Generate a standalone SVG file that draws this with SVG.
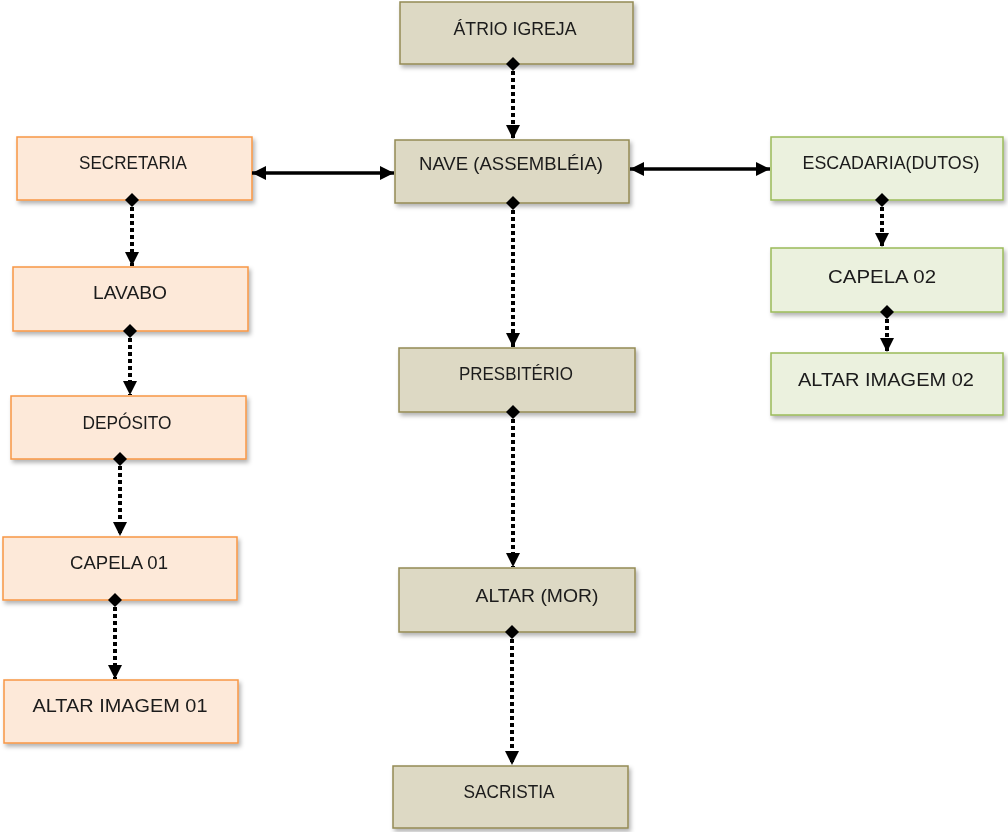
<svg xmlns="http://www.w3.org/2000/svg" width="1008" height="832" viewBox="0 0 1008 832">
<defs>
<style>
.box{stroke-width:1.5}
.tan{fill:#DDD9C4;stroke:#948A54}
.org{fill:#FDE9D9;stroke:#F79646}
.grn{fill:#EBF1DE;stroke:#9BBB59}
text{font-family:"Liberation Sans",Arial,sans-serif;font-size:19px;fill:#1a1a1a;text-anchor:middle}
.dot{stroke:#000;stroke-width:4;stroke-dasharray:4 3;fill:none;marker-start:url(#dia);marker-end:url(#tri)}
.sol{stroke:#000;stroke-width:3.5;fill:none;marker-start:url(#tri2);marker-end:url(#tri2)}
</style>
<filter id="sh" x="-10%" y="-10%" width="125%" height="135%">
<feDropShadow dx="2" dy="3" stdDeviation="2" flood-color="#000" flood-opacity="0.3"/>
</filter>
<marker id="dia" markerUnits="userSpaceOnUse" markerWidth="14" markerHeight="14" refX="7" refY="7" orient="auto">
<path d="M0,7 L7,0 L14,7 L7,14 z" fill="#000"/>
</marker>
<marker id="tri" markerUnits="userSpaceOnUse" markerWidth="16" markerHeight="16" refX="14" refY="7" orient="auto">
<path d="M0,0 L14,7 L0,14 z" fill="#000"/>
</marker>
<marker id="tri2" markerUnits="userSpaceOnUse" markerWidth="16" markerHeight="16" refX="14" refY="7" orient="auto-start-reverse">
<path d="M0,0 L14,7 L0,14 z" fill="#000"/>
</marker>
</defs>
<rect width="1008" height="832" fill="#fff"/>
<g id="atrio" filter="url(#sh)"><rect class="box tan" x="400" y="2" width="233" height="62"/><text x="515" y="35" textLength="123" lengthAdjust="spacingAndGlyphs">ÁTRIO IGREJA</text></g>
<g id="nave" filter="url(#sh)"><rect class="box tan" x="395" y="140" width="234" height="63"/><text x="511" y="170" textLength="184" lengthAdjust="spacingAndGlyphs">NAVE (ASSEMBLÉIA)</text></g>
<g id="presbiterio" filter="url(#sh)"><rect class="box tan" x="399" y="348" width="236" height="64"/><text x="516" y="380" textLength="114" lengthAdjust="spacingAndGlyphs">PRESBITÉRIO</text></g>
<g id="altar-mor" filter="url(#sh)"><rect class="box tan" x="399" y="568" width="236" height="64"/><text x="537" y="602" textLength="123" lengthAdjust="spacingAndGlyphs">ALTAR (MOR)</text></g>
<g id="sacristia" filter="url(#sh)"><rect class="box tan" x="393" y="766" width="235" height="62"/><text x="509" y="798" textLength="91" lengthAdjust="spacingAndGlyphs">SACRISTIA</text></g>
<g id="secretaria" filter="url(#sh)"><rect class="box org" x="17" y="137" width="235" height="63"/><text x="133" y="169" textLength="108" lengthAdjust="spacingAndGlyphs">SECRETARIA</text></g>
<g id="lavabo" filter="url(#sh)"><rect class="box org" x="13" y="267" width="235" height="64"/><text x="130" y="299" textLength="74" lengthAdjust="spacingAndGlyphs">LAVABO</text></g>
<g id="deposito" filter="url(#sh)"><rect class="box org" x="11" y="396" width="235" height="63"/><text x="127" y="429" textLength="89" lengthAdjust="spacingAndGlyphs">DEPÓSITO</text></g>
<g id="capela01" filter="url(#sh)"><rect class="box org" x="3" y="537" width="234" height="63"/><text x="119" y="569" textLength="98" lengthAdjust="spacingAndGlyphs">CAPELA 01</text></g>
<g id="altar01" filter="url(#sh)"><rect class="box org" x="4" y="680" width="234" height="63"/><text x="120" y="712" textLength="175" lengthAdjust="spacingAndGlyphs">ALTAR IMAGEM 01</text></g>
<g id="escadaria" filter="url(#sh)"><rect class="box grn" x="771" y="137" width="232" height="63"/><text x="891" y="169" textLength="177" lengthAdjust="spacingAndGlyphs">ESCADARIA(DUTOS)</text></g>
<g id="capela02" filter="url(#sh)"><rect class="box grn" x="771" y="248" width="232" height="64"/><text x="882" y="283" textLength="108" lengthAdjust="spacingAndGlyphs">CAPELA 02</text></g>
<g id="altar02" filter="url(#sh)"><rect class="box grn" x="771" y="353" width="232" height="62"/><text x="886" y="386" textLength="176" lengthAdjust="spacingAndGlyphs">ALTAR IMAGEM 02</text></g>
<g id="connectors">
<path class="dot" d="M513,64 V139"/>
<path class="dot" d="M513,203 V347"/>
<path class="dot" d="M513,412 V567"/>
<path class="dot" d="M512,632 V765"/>
<path class="dot" d="M132,200 V266"/>
<path class="dot" d="M130,331 V395"/>
<path class="dot" d="M120,459 V536"/>
<path class="dot" d="M115,600 V679"/>
<path class="dot" d="M882,200 V247"/>
<path class="dot" d="M887,312 V352"/>
<path class="sol" d="M252,173 H394"/>
<path class="sol" d="M630,169 H770"/>
</g>
</svg>
